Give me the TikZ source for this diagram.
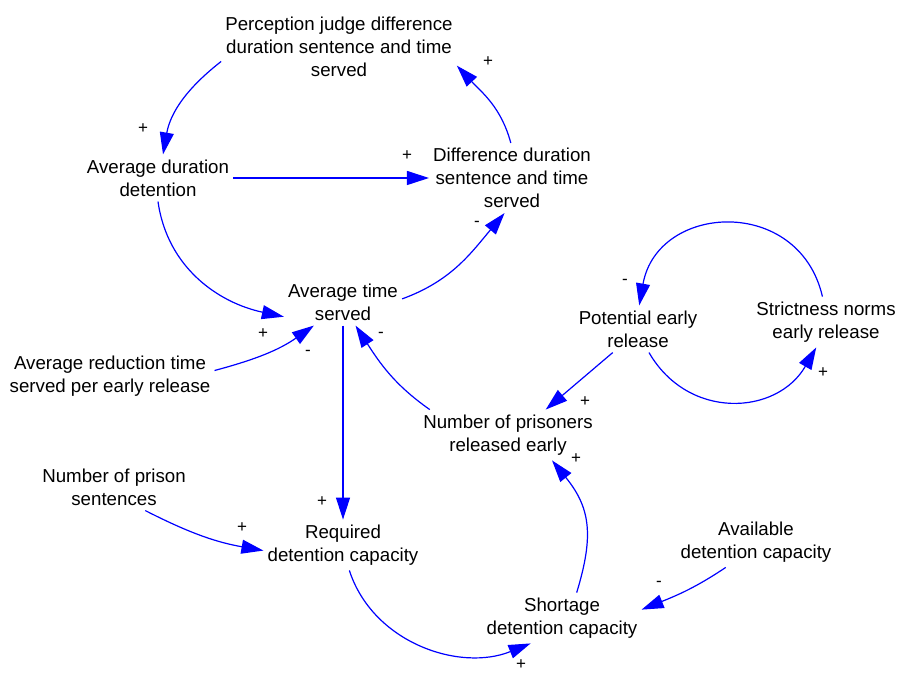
\documentclass[tikz,border=0pt]{standalone}
\usepackage{fontspec}
\setmainfont{Liberation Sans}
\usetikzlibrary{arrows.meta}
\definecolor{linkblue}{RGB}{0,0,255}
\begin{document}
\begin{tikzpicture}[x=1pt,y=1pt,
  var/.style={align=center, font=\fontsize{18.7}{23}\selectfont, inner xsep=4pt, inner ysep=5pt, text=black},
  link/.style={draw=linkblue, line width=1.2pt, -{Triangle[length=22pt,width=14pt]}},
  sgn/.style={font=\fontsize{17}{19}\selectfont, inner sep=0pt, text=black}]
\useasboundingbox (0,0) rectangle (901,672);
\fill[white] (0,0) rectangle (901,672);

\node[var] (perc) at (339,625) {Perception judge difference\\duration sentence and time\\served};
\node[var] (avgdur) at (158,494) {Average duration\\detention};
\node[var] (diff) at (512,494) {Difference duration\\sentence and time\\served};
\node[var] (avgtime) at (343,370) {Average time\\served};
\node[var] (avgred) at (110,296) {Average reduction time\\served per early release};
\node[var] (pot) at (638,343) {Potential early\\release};
\node[var] (strict) at (826,350) {Strictness norms\\early release};
\node[var] (numrel) at (508,237) {Number of prisoners\\released early};
\node[var] (numsent) at (114,185) {Number of prison\\sentences};
\node[var] (req) at (343,127) {Required\\detention capacity};
\node[var] (avail) at (756,130) {Available\\detention capacity};
\node[var] (short) at (562,54) {Shortage\\detention capacity};

\draw[link] (perc.187) to[out=218,in=80] (avgdur.78);
\draw[link] (avgdur.east) -- (diff.west);
\draw[link] (diff.92) to[out=105,in=313] (perc.351);
\draw[link] (avgdur.270) to[out=278,in=168] (avgtime.194);
\draw[link] (avgtime.3) to[out=20,in=230] (diff.258);
\draw[link] (avgred.3) to[out=15,in=215] (avgtime.219);
\draw[link] (avgtime.south) -- (req.north);
\draw[link] (numrel.162) to[out=145,in=303] (avgtime.298);
\draw[link] (pot.223) -- (numrel.34);
\draw[link] (pot.295) to[out=300,in=240,looseness=1.2] (strict.249);
\draw[link] (strict.98) to[out=103,in=80,looseness=1.45] (pot.87);
\draw[link] (numsent.323) to[out=333,in=170] (req.184);
\draw[link] (req.284) to[out=288,in=202] (short.219);
\draw[link] (short.60) to[out=73,in=309,looseness=1.15] (numrel.330);
\draw[link] (avail.220) to[out=214,in=22] (short.6);

\node[sgn] (s1) at (143,543) {+};
\node[sgn] (s2) at (407,516) {+};
\node[sgn] (s3) at (488,610) {+};
\node[sgn] (s4) at (263,338) {+};
\node[sgn] (s5) at (477,448) {-};
\node[sgn] (s6) at (308,319) {-};
\node[sgn] (s7) at (322,170) {+};
\node[sgn] (s8) at (381,337) {-};
\node[sgn] (s9) at (585,270) {+};
\node[sgn] (s10) at (823,299) {+};
\node[sgn] (s11) at (625,390) {-};
\node[sgn] (s12) at (242,144) {+};
\node[sgn] (s13) at (521,7) {+};
\node[sgn] (s14) at (576,213) {+};
\node[sgn] (s15) at (659,88) {-};
\end{tikzpicture}
\end{document}
